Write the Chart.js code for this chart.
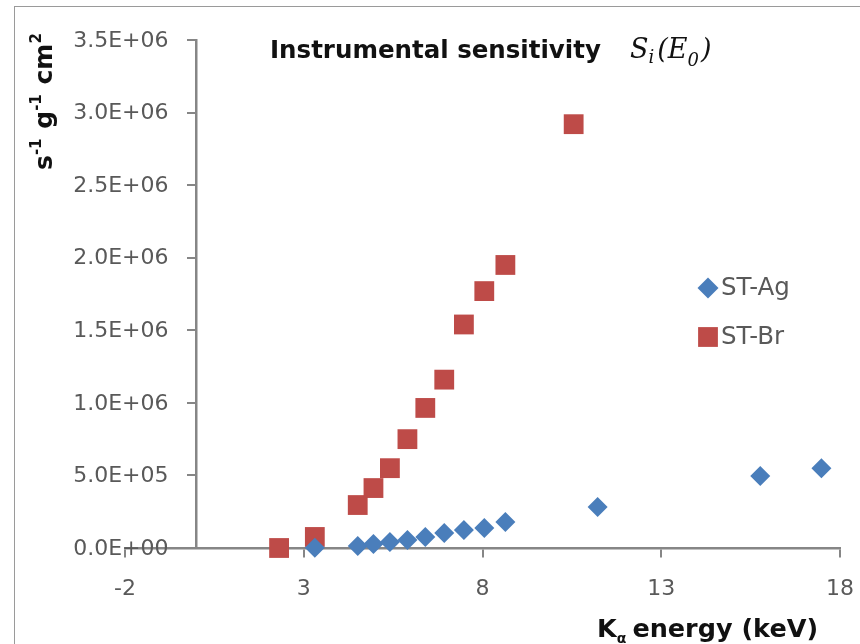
<!DOCTYPE html>
<html>
<head>
<meta charset="utf-8">
<script src="https://cdn.jsdelivr.net/npm/chart.js@4.4.0/dist/chart.umd.min.js"></script>
<style>
  html, body { margin: 0; padding: 0; background: #ffffff; }
  #wrap { position: relative; width: 860px; height: 644px; overflow: hidden; }
  #frame { position: absolute; left: 14px; top: 6px; width: 900px; height: 700px;
           border-left: 1.5px solid #9a9a9a; border-top: 1.5px solid #9a9a9a; }
  #chart { position: absolute; left: 0; top: 0; }
</style>
</head>
<body>
<div id="wrap">
  <div id="frame"></div>
  <canvas id="chart" width="860" height="644"></canvas>
</div>
<script>
// K-alpha energies (keV) and sensitivities
var agEnergy = [3.31, 4.51, 4.95, 5.41, 5.90, 6.40, 6.93, 7.48, 8.05, 8.64, 11.22, 15.77, 17.48];
var agSensitivity = [2e3, 1.4e4, 2.8e4, 4.1e4, 5.5e4, 7.6e4, 1.03e5, 1.24e5, 1.38e5, 1.79e5, 2.83e5, 4.96e5, 5.5e5];

var brEnergy = [2.31, 3.31, 4.51, 4.95, 5.41, 5.90, 6.40, 6.93, 7.48, 8.05, 8.64, 10.55];
var brSensitivity = [0, 7.6e4, 2.96e5, 4.13e5, 5.5e5, 7.5e5, 9.65e5, 1.16e6, 1.54e6, 1.77e6, 1.95e6, 2.92e6];

var seriesNames = ['ST-Ag', 'ST-Br'];

var xTickValues = [-2, 3, 8, 13, 18];
var xTickLabels = ['-2', '3', '8', '13', '18'];
var yTickValues = [0, 5e5, 1e6, 1.5e6, 2e6, 2.5e6, 3e6, 3.5e6];
var yTickLabels = ['0.0E+00', '5.0E+05', '1.0E+06', '1.5E+06', '2.0E+06', '2.5E+06', '3.0E+06', '3.5E+06'];

var titleText = 'Instrumental sensitivity';
var xTitleText = 'energy (keV)';

function toPoints(xs, ys) {
    return xs.map(function (x, i) { return { x: x, y: ys[i] }; });
}

var axisGray = '#868686';
var labelGray = '#595959';

// tick labels, titles and legend drawn on top of the plot
var decor = {
    id: 'decor',
    afterDraw: function (chart) {
        var ctx = chart.ctx;
        var xs = chart.scales.x, ys = chart.scales.y;

        // tick labels, placed from the scales
        ctx.save();
        ctx.font = '22px "DejaVu Sans"';
        ctx.fillStyle = labelGray;
        ctx.textBaseline = 'middle';
        ctx.textAlign = 'right';
        var labelRight = xs.getPixelForValue(0) - 28;
        ys.ticks.forEach(function (t, i) {
            ctx.fillText(yTickLabels[i], labelRight, ys.getPixelForValue(t.value) + 1);
        });
        ctx.textAlign = 'center';
        var labelY = ys.getPixelForValue(0) + 41;
        xs.ticks.forEach(function (t, i) {
            ctx.fillText(xTickLabels[i], xs.getPixelForValue(t.value), labelY);
        });
        ctx.restore();

        ctx.save();
        ctx.textBaseline = 'alphabetic';
        ctx.textAlign = 'left';
        ctx.fillStyle = '#111111';

        // chart title
        ctx.font = 'bold 24.5px "DejaVu Sans"';
        ctx.fillText(titleText, 270, 58);
        var x = 630;
        ctx.font = 'italic 27px "DejaVu Serif"';
        ctx.fillText('S', x, 58);
        x += ctx.measureText('S').width;
        ctx.font = 'italic 18px "DejaVu Serif"';
        ctx.fillText('i', x, 63);
        x += ctx.measureText('i').width + 3;
        ctx.font = 'italic 27px "DejaVu Serif"';
        ctx.fillText('(E', x, 58);
        x += ctx.measureText('(E').width;
        ctx.font = 'italic 18px "DejaVu Serif"';
        ctx.fillText('0', x, 66);
        x += ctx.measureText('0').width + 2;
        ctx.font = 'italic 27px "DejaVu Serif"';
        ctx.fillText(')', x, 58);

        // x axis title with alpha subscript
        x = 597;
        ctx.font = 'bold 25.5px "DejaVu Sans"';
        ctx.fillText('K', x, 637);
        x += ctx.measureText('K').width;
        ctx.font = 'bold 14px "DejaVu Sans"';
        ctx.fillText('\u03b1', x, 643);
        x += ctx.measureText('\u03b1').width + 6;
        ctx.font = 'bold 25.5px "DejaVu Sans"';
        ctx.fillText(xTitleText, x, 637);

        // y axis title, rotated
        ctx.translate(52, 170);
        ctx.rotate(-Math.PI / 2);
        var parts = [['s', 0], ['-1', 1], [' g', 0], ['-1', 1], [' cm', 0], ['2', 1]];
        var px = 0;
        parts.forEach(function (p) {
            ctx.font = p[1] ? 'bold 15px "DejaVu Sans"' : 'bold 25px "DejaVu Sans"';
            ctx.fillText(p[0], px, p[1] ? -11 : 0);
            px += ctx.measureText(p[0]).width + (p[1] ? 1 : 0);
        });
        ctx.restore();

        // legend
        ctx.save();
        var rows = [288, 337];
        chart.data.datasets.forEach(function (ds, i) {
            ctx.fillStyle = ds.backgroundColor;
            Chart.helpers.drawPoint(ctx, {
                pointStyle: ds.pointStyle,
                radius: ds.pointStyle === 'rect' ? 14 : 10.5,
                borderWidth: 0,
                rotation: 0
            }, 708, rows[i]);
            ctx.fillStyle = labelGray;
            ctx.font = '24.5px "DejaVu Sans"';
            ctx.textBaseline = 'middle';
            ctx.fillText(ds.label, 721, rows[i] + 1);
        });
        ctx.restore();
    }
};

var chart = new Chart(document.getElementById('chart'), {
    type: 'scatter',
    data: {
        datasets: [{
            label: seriesNames[0],
            data: toPoints(agEnergy, agSensitivity),
            pointStyle: 'rectRot',
            pointRadius: 10,
            pointHoverRadius: 10,
            backgroundColor: '#4a7ebb',
            borderColor: '#4a7ebb',
            borderWidth: 0,
            clip: false
        }, {
            label: seriesNames[1],
            data: toPoints(brEnergy, brSensitivity),
            pointStyle: 'rect',
            pointRadius: 14,
            pointHoverRadius: 14,
            backgroundColor: '#be4b48',
            borderColor: '#be4b48',
            borderWidth: 0,
            clip: false
        }]
    },
    options: {
        responsive: false,
        animation: false,
        layout: { padding: { left: 125, right: 20, top: 40, bottom: 96 } },
        plugins: {
            legend: { display: false },
            tooltip: { enabled: false }
        },
        scales: {
            x: {
                type: 'linear',
                position: { y: 0 },
                min: -2,
                max: 18,
                afterBuildTicks: function (scale) {
                    scale.ticks = xTickValues.map(function (v) { return { value: v }; });
                },
                grid: { drawOnChartArea: false, drawTicks: true, tickLength: 8, color: axisGray, lineWidth: 2 },
                border: { display: true, color: axisGray, width: 2.5 },
                ticks: { display: false }
            },
            y: {
                type: 'linear',
                position: { x: 0 },
                min: 0,
                max: 3.5e6,
                afterBuildTicks: function (scale) {
                    scale.ticks = yTickValues.map(function (v) { return { value: v }; });
                },
                grid: { drawOnChartArea: false, drawTicks: true, tickLength: 8, color: axisGray, lineWidth: 2 },
                border: { display: true, color: axisGray, width: 2.5 },
                ticks: { display: false }
            }
        }
    },
    plugins: [decor]
});
</script>
</body>
</html>
